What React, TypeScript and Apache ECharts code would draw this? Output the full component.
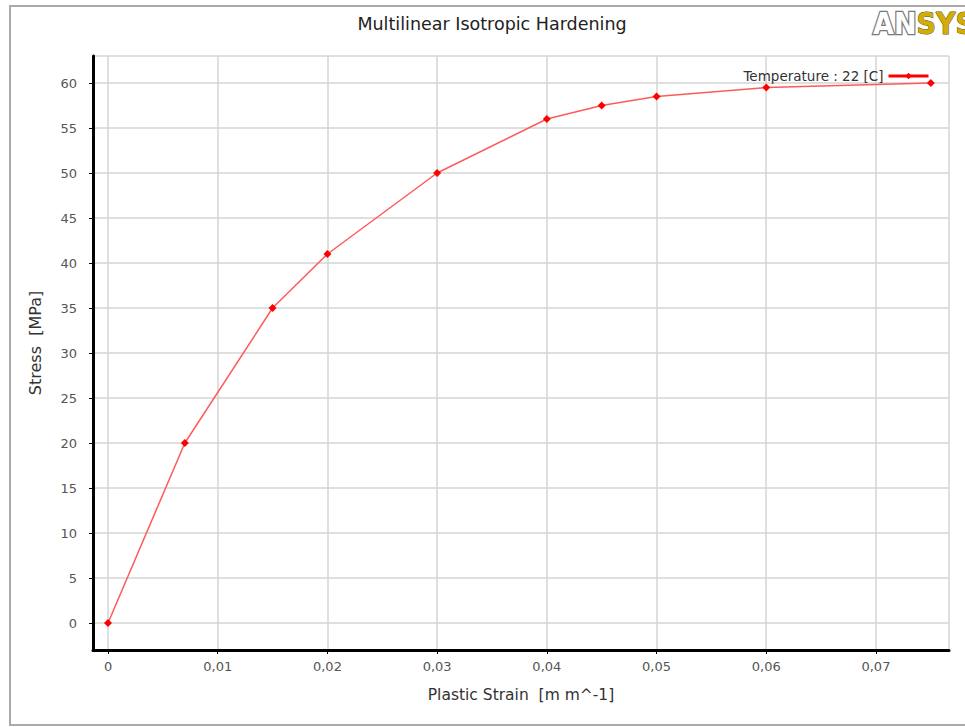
import React, { useEffect, useRef } from "react";
import * as echarts from "echarts";

const strain = [0, 0.007, 0.015, 0.02, 0.03, 0.04, 0.045, 0.05, 0.06, 0.075];
const stress = [0, 20, 35, 41, 50, 56, 57.5, 58.5, 59.5, 60];
const seriesName = "Temperature : 22 [C]";
const chartTitle = "Multilinear Isotropic Hardening";
const xName = "Plastic Strain  [m m^-1]";
const yName = "Stress  [MPa]";

export default function App() {
  const ref = useRef<HTMLDivElement>(null);
  useEffect(() => {
    if (!ref.current) return;
    const chart = echarts.init(ref.current, undefined, { renderer: "svg" });
    const font = "DejaVu Sans";
    chart.setOption({
      animation: false,
      backgroundColor: "#ffffff",
      title: {
        text: chartTitle,
        left: 487,
        top: 10,
        textAlign: "center",
        textStyle: { fontFamily: font, fontSize: 17.5, fontWeight: "normal", color: "#222" },
      },
      legend: {
        data: [{ name: seriesName }],
        right: 30,
        top: 64,
        align: "right",
        itemWidth: 40,
        itemHeight: 8,
        itemGap: 12,
        textStyle: { fontFamily: font, fontSize: 13.5, color: "#333" },
        lineStyle: { width: 3, color: "#ff0000" },
        itemStyle: { color: "#ff0000" },
      },
      grid: { left: 93, right: 16, top: 56, bottom: 77, containLabel: false },
      xAxis: {
        type: "value",
        min: -0.00137,
        max: 0.07666,
        splitNumber: 8,
        minInterval: 0.01,
        maxInterval: 0.01,
        name: xName,
        nameLocation: "middle",
        nameGap: 37,
        nameTextStyle: { fontFamily: font, fontSize: 15.5, color: "#333" },
        axisLine: { show: true, onZero: false, lineStyle: { color: "#000", width: 3 } },
        axisTick: { show: true, length: 4, lineStyle: { color: "#000", width: 1 } },
        axisLabel: {
          fontFamily: font,
          fontSize: 13,
          color: "#555",
          margin: 10,
          showMinLabel: false,
          showMaxLabel: false,
          formatter: (v: number) => {
            const k = v / 0.01;
            if (Math.abs(k - Math.round(k)) > 1e-6) return "";
            const r = Math.round(k);
            return r === 0 ? "0" : (r / 100).toFixed(2).replace(".", ",");
          },
        },
        splitLine: { show: true, lineStyle: { color: "#d4d4d4", width: 1.5 } },
      },
      yAxis: {
        type: "value",
        min: -3,
        max: 63,
        splitNumber: 13,
        minInterval: 5,
        maxInterval: 5,
        axisLine: { show: true, onZero: false, lineStyle: { color: "#000", width: 3 } },
        axisTick: { show: true, length: 4, lineStyle: { color: "#000", width: 1 } },
        axisLabel: {
          fontFamily: font,
          fontSize: 13,
          color: "#555",
          margin: 16,
          showMinLabel: false,
          showMaxLabel: false,
          formatter: (v: number) => {
            const k = v / 5;
            if (Math.abs(k - Math.round(k)) > 1e-6) return "";
            return String(Math.round(v));
          },
        },
        splitLine: { show: true, lineStyle: { color: "#d4d4d4", width: 1.5 } },
      },
      series: [
        {
          name: seriesName,
          type: "line",
          data: strain.map((x, i) => [x, stress[i]]),
          symbol: "diamond",
          symbolSize: 8,
          lineStyle: { color: "#ff5a5a", width: 1.5 },
          itemStyle: { color: "#ff0000" },
        },
      ],
      graphic: [
        {
          type: "rect",
          shape: { x: 10, y: 6, width: 1000, height: 719 },
          style: { fill: "none", stroke: "#aaaaaa", lineWidth: 2 },
          z: -1,
        },
        {
          type: "text",
          x: 35,
          y: 343,
          rotation: Math.PI / 2,
          style: {
            text: yName,
            fontFamily: font,
            fontSize: 16,
            fill: "#333",
            align: "center",
            verticalAlign: "middle",
          },
        },
        {
          type: "text",
          x: 873,
          y: 8,
          style: {
            text: "{a|AN}{b|SYS}",
            rich: {
              a: {
                fontFamily: "'DejaVu Sans Condensed', 'DejaVu Sans'",
                fontWeight: "bold",
                fontSize: 30,
                fill: "#ffffff",
                stroke: "#7a7a7a",
                lineWidth: 2.5,
              },
              b: {
                fontFamily: "'Liberation Sans Narrow', 'DejaVu Sans Condensed', 'DejaVu Sans'",
                fontWeight: "bold",
                fontSize: 30,
                fill: "#d2ad0a",
                stroke: "#6a5a10",
                lineWidth: 1,
              },
            },
          },
        },
      ],
    });
    return () => chart.dispose();
  }, []);
  return (
    <div
      ref={ref}
      style={{ position: "absolute", left: 0, top: 0, width: 965, height: 727 }}
    />
  );
}
